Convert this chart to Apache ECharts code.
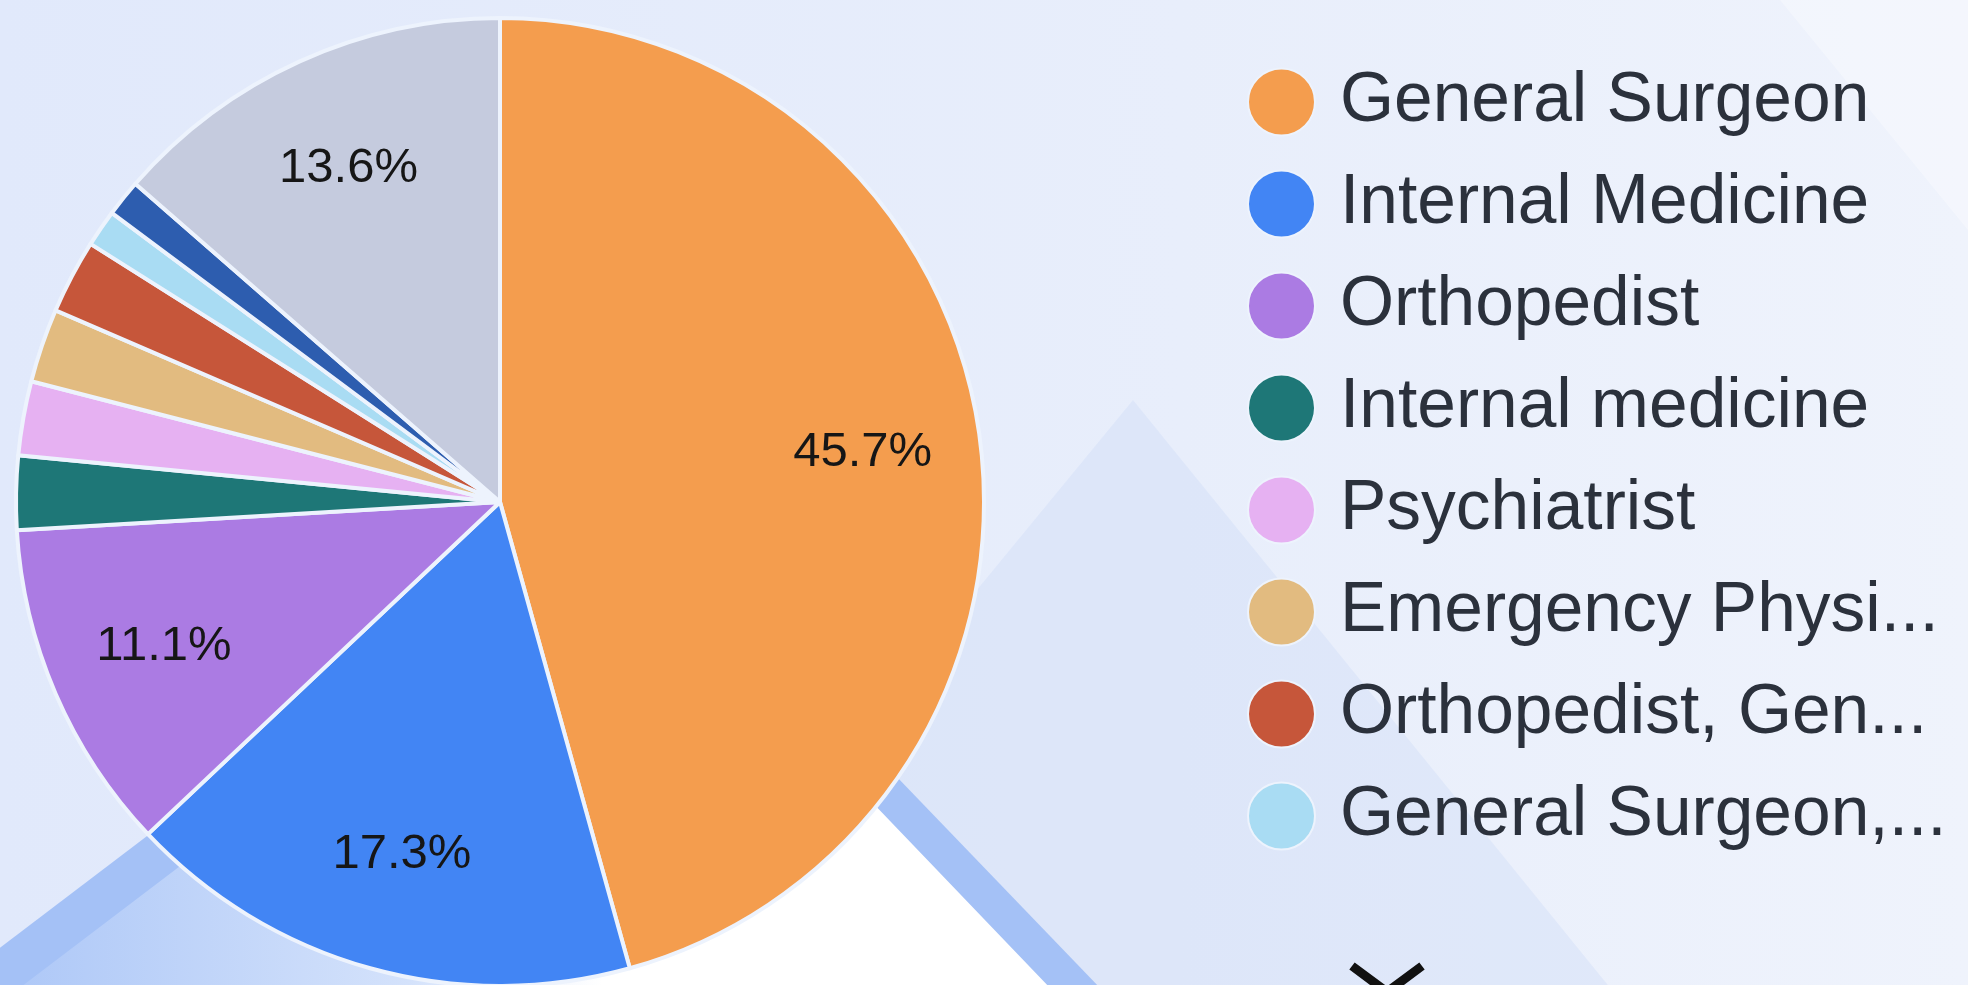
<!DOCTYPE html>
<html>
<head>
<meta charset="utf-8">
<title>Specialty share</title>
<script src="https://cdn.jsdelivr.net/npm/echarts@6/dist/echarts.min.js"></script>
<style>
  html, body { margin: 0; padding: 0; overflow: hidden; }
  #chart { width: 1968px; height: 985px; }
</style>
</head>
<body>
<div id="chart"></div>
<script>
// slices, clockwise from 12 o'clock
const specialties = [
  'General Surgeon',
  'Internal Medicine',
  'Orthopedist',
  'Internal medicine',
  'Psychiatrist',
  'Emergency Physician',
  'Orthopedist, General Surgeon',
  'General Surgeon, Orthopedist',
  'Cardiologist',
  'Other'
]
const counts = [37, 14, 9, 2, 2, 2, 2, 1, 1, 11]
const sliceColors = [
  '#f49d4e', '#4285f4', '#ab7be3', '#1e7777', '#e6b1f2',
  '#e2bb80', '#c6563a', '#a9dcf3', '#2d5daf', '#c5cbde'
]
// only the first page of the legend is visible
const legendNames = specialties.slice(0, 8)

const pieData = specialties.map((name, i) => ({ name: name, value: counts[i] }))

const chart = echarts.init(document.getElementById('chart'))

chart.setOption({
  animation: false,
  color: sliceColors,
  backgroundColor: {
    type: 'linear', x: 0, y: 0, x2: 1, y2: 0,
    colorStops: [
      { offset: 0, color: '#e1e9fb' },
      { offset: 0.6, color: '#e8eefb' },
      { offset: 1, color: '#eff3fc' }
    ]
  },
  graphic: [
    // faint diamond behind the legend
    {
      type: 'polygon', z: -10,
      shape: { points: [[1133, 400], [1620, 1000], [640, 1000]] },
      style: { fill: 'rgba(200,214,246,0.32)' }
    },
    // lighter wedge top right
    {
      type: 'polygon', z: -10,
      shape: { points: [[1780, 0], [1968, 0], [1968, 230]] },
      style: { fill: 'rgba(255,255,255,0.3)' }
    },
    // blue diamond band at the bottom
    {
      type: 'polygon', z: -9,
      shape: { points: [[613, 482], [1102, 990], [-20, 990], [-20, 963]] },
      style: { fill: '#a4c1f6' }
    },
    {
      type: 'polygon', z: -8,
      shape: { points: [[616, 535], [1052, 990], [-20, 990], [-20, 1018]] },
      style: {
        fill: {
          type: 'linear', x: 0, y: 0, x2: 1, y2: 0,
          colorStops: [
            { offset: 0, color: '#abc6f7' },
            { offset: 0.4, color: '#d4e2fb' },
            { offset: 0.58, color: '#ffffff' },
            { offset: 1, color: '#ffffff' }
          ]
        }
      }
    },
    // page-down chevron under the legend
    {
      type: 'polyline', z: 10,
      shape: { points: [[1352, 966], [1387, 992], [1422, 966]] },
      style: { stroke: '#111111', lineWidth: 9, fill: null }
    }
  ],
  legend: {
    orient: 'vertical',
    left: 1242,
    top: 61,
    data: legendNames,
    icon: 'circle',
    itemWidth: 107,
    itemHeight: 67,
    itemGap: 30,
    textStyle: {
      fontFamily: 'Liberation Sans',
      fontSize: 69.5,
      lineHeight: 72,
      color: '#2b313c',
      width: 615,
      overflow: 'truncate'
    }
  },
  series: [
    {
      name: 'Specialty',
      type: 'pie',
      center: [500, 502],
      radius: 484,
      startAngle: 90,
      data: pieData,
      label: { show: false },
      labelLine: { show: false },
      itemStyle: { borderColor: '#edf3fd', borderWidth: 4 },
      emphasis: { scale: false }
    },
    {
      // label layer: puts the percentages at 3/4 of the radius
      name: 'Labels',
      type: 'pie',
      center: [500, 502],
      radius: [242, 484],
      startAngle: 90,
      silent: true,
      legendHoverLink: false,
      data: pieData,
      itemStyle: { color: 'transparent' },
      labelLine: { show: false },
      label: {
        show: true,
        position: 'inside',
        fontFamily: 'Liberation Sans',
        fontSize: 49,
        color: '#161616',
        formatter: p => (p.percent >= 5 ? p.percent.toFixed(1) + '%' : '')
      }
    }
  ]
})
</script>
</body>
</html>
